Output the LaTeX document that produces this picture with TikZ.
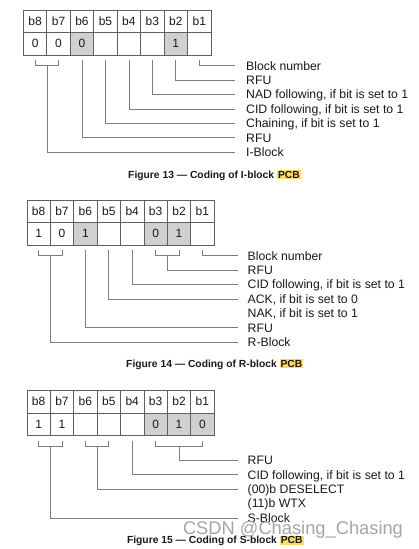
\documentclass[tikz,border=0pt]{standalone}
\usepackage{fontspec}
\setmainfont{Liberation Sans}
\definecolor{cellgray}{RGB}{208,208,208}
\definecolor{framegray}{RGB}{95,95,95}
\definecolor{linegray}{RGB}{125,125,125}
\definecolor{txt}{RGB}{25,25,25}
\definecolor{hl}{RGB}{255,218,102}
\definecolor{wmgray}{RGB}{165,165,165}
\begin{document}
\begin{tikzpicture}[x=1pt,y=-1pt,
  cell/.style={draw=framegray, line width=0.8pt, minimum width=23.4pt, minimum height=22.5pt,
    inner sep=0pt, anchor=north west, font=\fontsize{12}{14}\selectfont, text=txt},
  conn/.style={draw=linegray, line width=0.8pt},
  lab/.style={anchor=west, inner sep=0pt, text height=8.8pt, text depth=0pt,
    font=\fontsize{12.25}{14.4}\selectfont, text=txt},
  captext/.style={font=\bfseries\fontsize{10.3}{12}\selectfont, text=txt, inner sep=0pt}]
\useasboundingbox (0,0) rectangle (419,549);
\newcommand\hlPCB{{\fboxsep=1pt\colorbox{hl}{PCB}}}

% ---------------- Figure 13 ----------------
\foreach \b [count=\k from 0] in {8,7,6,5,4,3,2,1}
  \node[cell] (h13b\b) at ({23+\k*23.45},9.5) {b\b};
\foreach \b/\v/\f [count=\k from 0] in {8/0/white,7/0/white,6/0/cellgray,5/{}/white,4/{}/white,3/{}/white,2/1/cellgray,1/{}/white}
  \node[cell, fill=\f] (c13b\b) at ({23+\k*23.45},32) {\v};
\node[lab] (l13a) at (246,65.7)  {Block number};
\node[lab] (l13b) at (246,80.1)  {RFU};
\node[lab] (l13c) at (246,94.5)  {NAD following, if bit is set to 1};
\node[lab] (l13d) at (246,108.9) {CID following, if bit is set to 1};
\node[lab] (l13e) at (246,123.3) {Chaining, if bit is set to 1};
\node[lab] (l13f) at (246,137.7) {RFU};
\node[lab] (l13g) at (246,152.1) {I-Block};
\draw[conn] ([yshift=-5pt]c13b1.south) |- ([xshift=-11pt]l13a.west);
\draw[conn] ([yshift=-5pt]c13b2.south) |- ([xshift=-11pt]l13b.west);
\draw[conn] ([yshift=-5pt]c13b3.south) |- ([xshift=-11pt]l13c.west);
\draw[conn] ([yshift=-5pt]c13b4.south) |- ([xshift=-11pt]l13d.west);
\draw[conn] ([yshift=-5pt]c13b5.south) |- ([xshift=-11pt]l13e.west);
\draw[conn] ([yshift=-5pt]c13b6.south) |- ([xshift=-11pt]l13f.west);
\draw[conn] ([yshift=-5pt]c13b8.south) -- (c13b8.south |- l13a.west) -- (c13b7.south |- l13a.west) -- ([yshift=-5pt]c13b7.south);
\draw[conn] (c13b8.south east |- l13a.west) |- ([xshift=-11pt]l13g.west);
\node[captext] (cap13) at (214.5,175) {Figure 13 — Coding of I-block \hlPCB};

% ---------------- Figure 14 ----------------
\foreach \b [count=\k from 0] in {8,7,6,5,4,3,2,1}
  \node[cell] (h14b\b) at ({26.5+\k*23.4},199.5) {b\b};
\foreach \b/\v/\f [count=\k from 0] in {8/1/white,7/0/white,6/1/cellgray,5/{}/white,4/{}/white,3/0/cellgray,2/1/cellgray,1/{}/white}
  \node[cell, fill=\f] (c14b\b) at ({26.5+\k*23.4},222) {\v};
\node[lab] (l14a) at (247.5,255.7) {Block number};
\node[lab] (l14b) at (247.5,270.1) {RFU};
\node[lab] (l14c) at (247.5,284.5) {CID following, if bit is set to 1};
\node[lab] (l14d) at (247.5,298.9) {ACK, if bit is set to 0};
\node[lab] (l14e) at (247.5,313.3) {NAK, if bit is set to 1};
\node[lab] (l14f) at (247.5,327.7) {RFU};
\node[lab] (l14g) at (247.5,342.1) {R-Block};
\draw[conn] ([yshift=-5pt]c14b1.south) |- ([xshift=-9.5pt]l14a.west);
\draw[conn] ([yshift=-5pt]c14b3.south) -- (c14b3.south |- l14a.west) -- (c14b2.south |- l14a.west) -- ([yshift=-5pt]c14b2.south);
\draw[conn] (c14b3.south east |- l14a.west) |- ([xshift=-9.5pt]l14b.west);
\draw[conn] ([yshift=-5pt]c14b4.south) |- ([xshift=-9.5pt]l14c.west);
\draw[conn] ([yshift=-5pt]c14b5.south) |- ([xshift=-9.5pt]l14d.west);
\draw[conn] ([yshift=-5pt]c14b6.south) |- ([xshift=-9.5pt]l14f.west);
\draw[conn] ([yshift=-5pt]c14b8.south) -- (c14b8.south |- l14a.west) -- (c14b7.south |- l14a.west) -- ([yshift=-5pt]c14b7.south);
\draw[conn] (c14b8.south east |- l14a.west) |- ([xshift=-9.5pt]l14g.west);
\node[captext] (cap14) at (214.8,364.3) {Figure 14 — Coding of R-block \hlPCB};

% ---------------- Figure 15 ----------------
\foreach \b [count=\k from 0] in {8,7,6,5,4,3,2,1}
  \node[cell] (h15b\b) at ({26.5+\k*23.4},390) {b\b};
\foreach \b/\v/\f [count=\k from 0] in {8/1/white,7/1/white,6/{}/white,5/{}/white,4/{}/white,3/0/cellgray,2/1/cellgray,1/0/cellgray}
  \node[cell, fill=\f] (c15b\b) at ({26.5+\k*23.4},412.5) {\v};
\coordinate (br15) at (0,446);
\node[lab] (l15a) at (247.5,460.3) {RFU};
\node[lab] (l15b) at (247.5,474.7) {CID following, if bit is set to 1};
\node[lab] (l15c) at (247.5,489.1) {(00)b DESELECT};
\node[lab] (l15d) at (247.5,503.5) {(11)b WTX};
\node[lab] (l15e) at (247.5,517.9) {S-Block};
\draw[conn] ([yshift=-5pt]c15b3.south) -- (c15b3.south |- br15) -- (c15b1.south |- br15) -- ([yshift=-5pt]c15b1.south);
\draw[conn] (c15b2.south |- br15) |- ([xshift=-9.5pt]l15a.west);
\draw[conn] ([yshift=-5pt]c15b4.south) |- ([xshift=-9.5pt]l15b.west);
\draw[conn] ([yshift=-5pt]c15b6.south) -- (c15b6.south |- br15) -- (c15b5.south |- br15) -- ([yshift=-5pt]c15b5.south);
\draw[conn] (c15b6.south east |- br15) |- ([xshift=-9.5pt]l15c.west);
\draw[conn] ([yshift=-5pt]c15b8.south) -- (c15b8.south |- br15) -- (c15b7.south |- br15) -- ([yshift=-5pt]c15b7.south);
\draw[conn] (c15b8.south east |- br15) |- ([xshift=-9.5pt]l15e.west);
\node[captext] (cap15) at (215.3,540.7) {Figure 15 — Coding of S-block \hlPCB};

% watermark
\node[font=\fontsize{18.3}{20}\selectfont, text=wmgray, inner sep=0pt] (wm) at (293,529.3) {CSDN @Chasing\_Chasing};
\end{tikzpicture}
\end{document}
